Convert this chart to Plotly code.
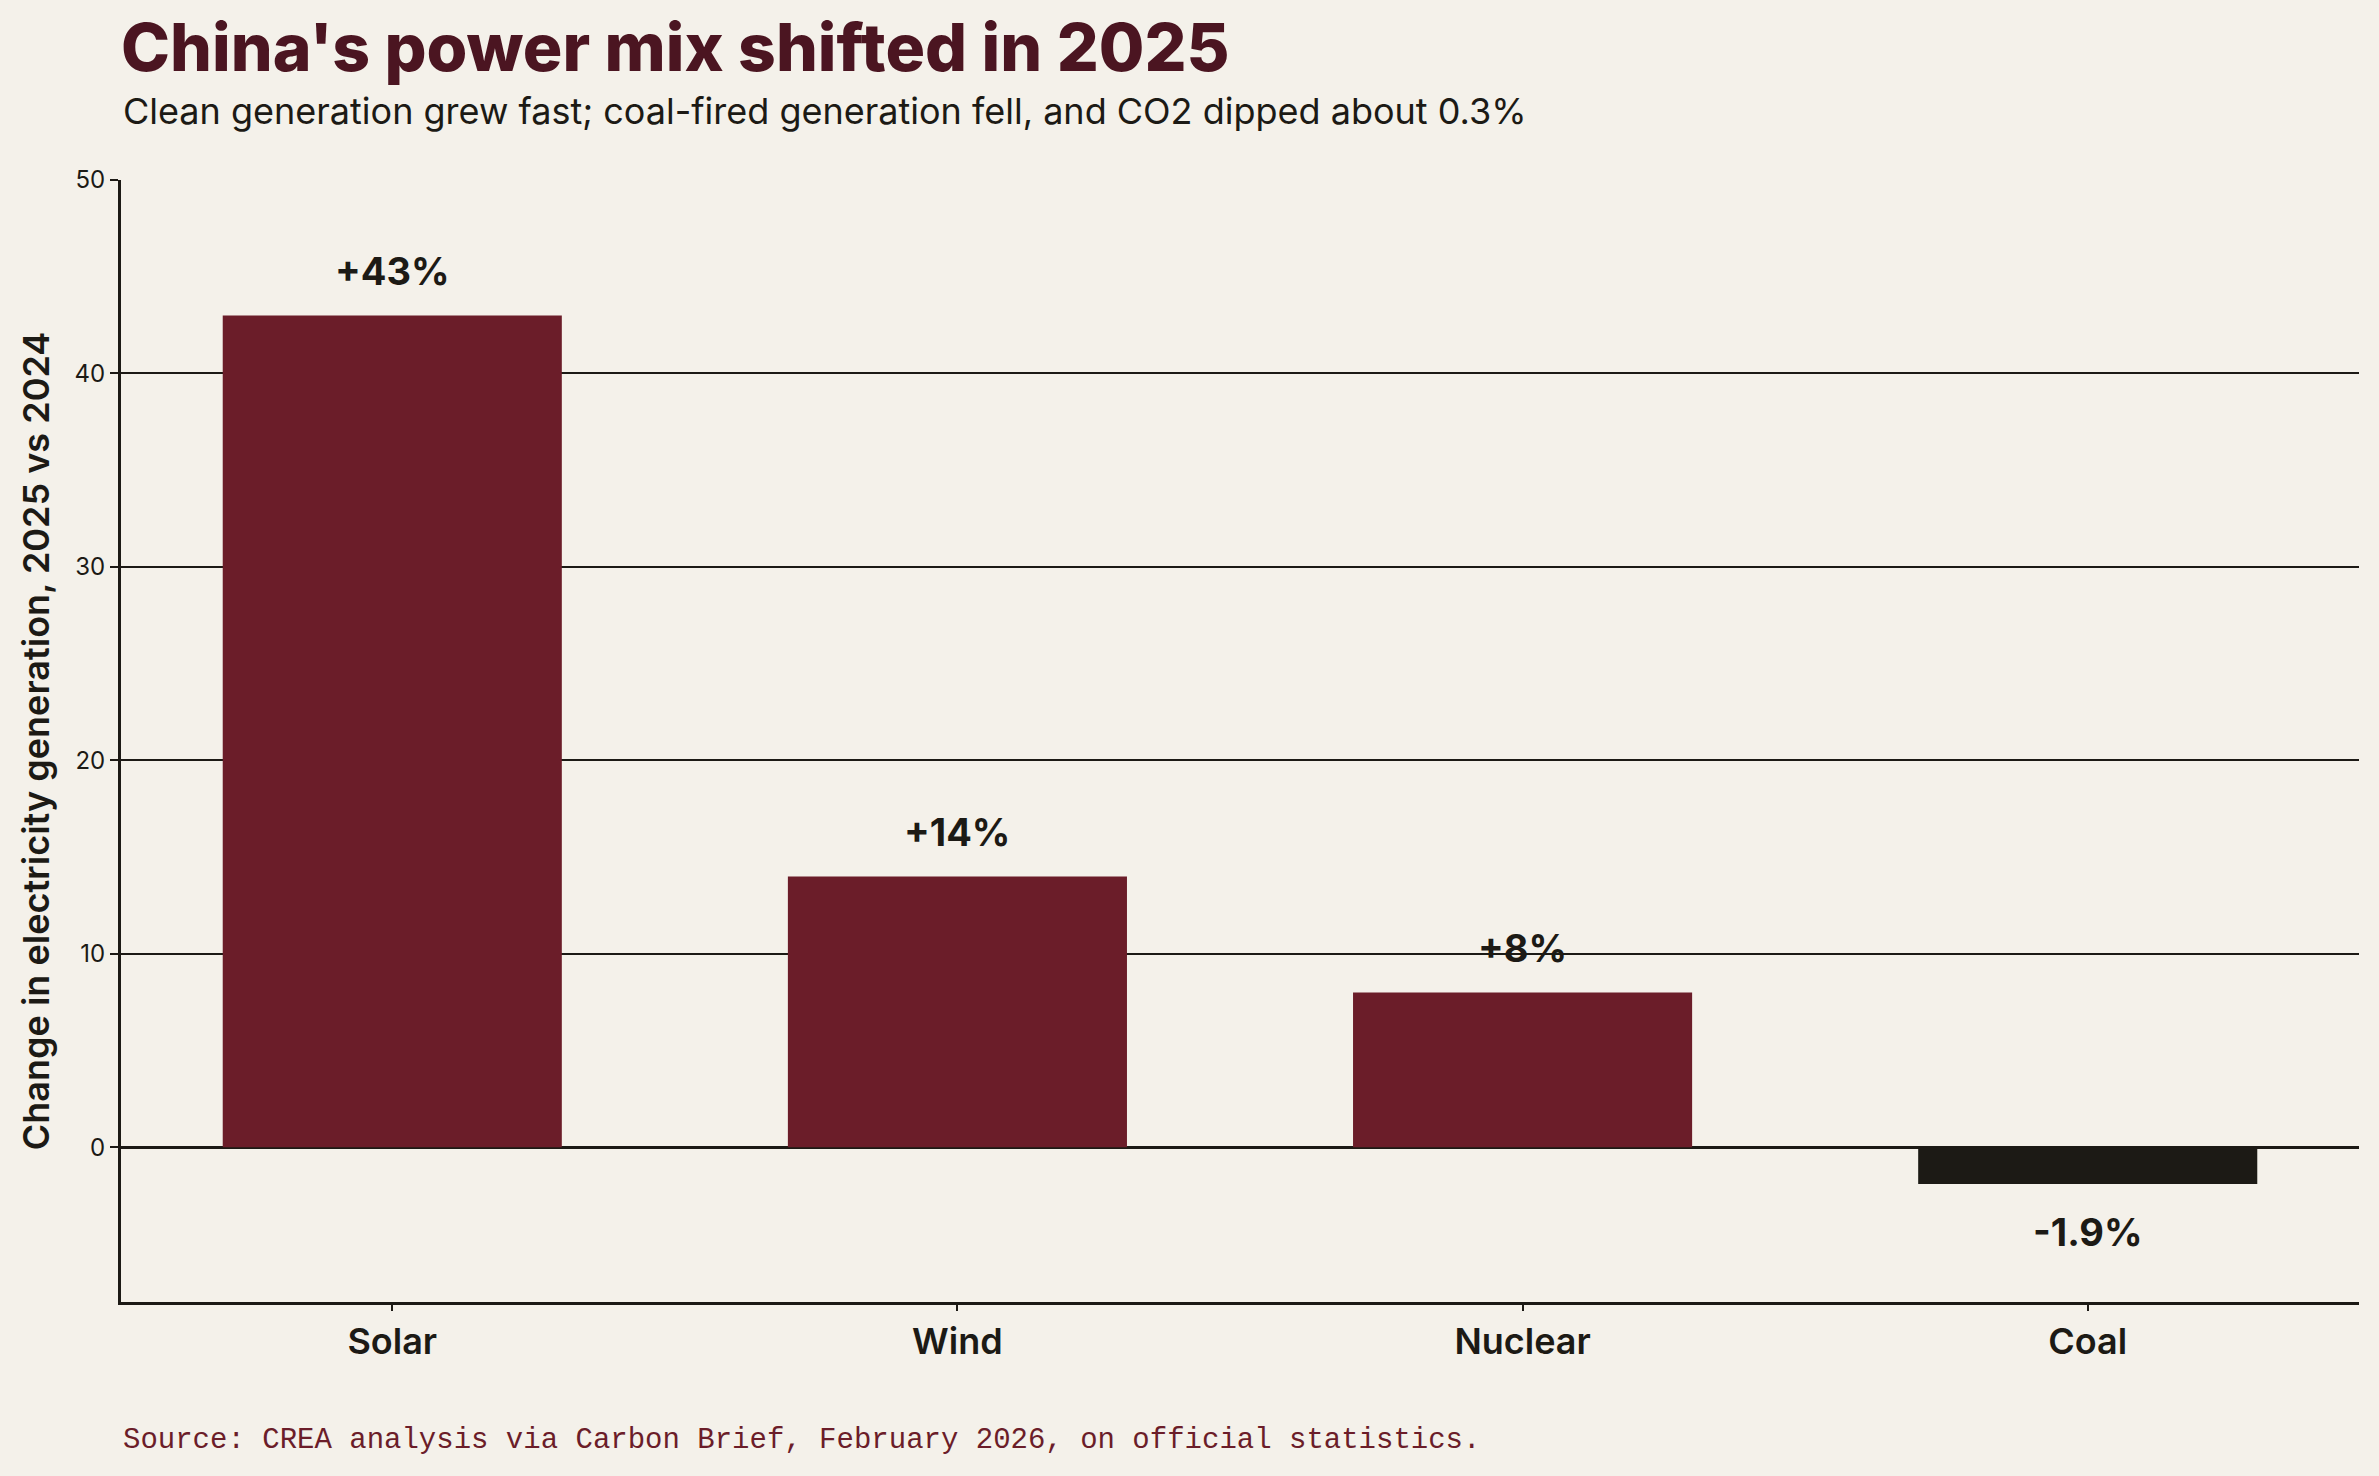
import plotly.graph_objects as go

# data
sources = ["Solar", "Wind", "Nuclear", "Coal"]
change_pct = [43, 14, 8, -1.9]
bar_labels = ["+43%", "+14%", "+8%", "-1.9%"]

BG = "#f4f1ea"
MAROON = "#6b1d29"
INK = "#1c1a15"

colors = [MAROON if v >= 0 else INK for v in change_pct]

fig = go.Figure(go.Bar(
    x=sources,
    y=change_pct,
    width=0.6,
    marker=dict(color=colors, line=dict(width=0)),
    hoverinfo="x+y",
))

# value labels above / below each bar
for name, val, lab in zip(sources, change_pct, bar_labels):
    fig.add_annotation(
        x=name, y=val, text=f"<b>{lab}</b>", showarrow=False,
        yanchor="middle", yshift=44 if val >= 0 else -48,
        font=dict(family="Inter", size=38, color=INK),
    )

fig.update_layout(
    width=2379, height=1476,
    paper_bgcolor=BG, plot_bgcolor=BG,
    margin=dict(l=121, r=20, t=180, b=174),
    showlegend=False,
    bargap=0.4,
    font=dict(family="Inter", color=INK),
    title=dict(
        text="China's power mix shifted in 2025",
        x=121 / 2379, xanchor="left", xref="container",
        y=1 - 48 / 1476, yanchor="middle",
        font=dict(family="Inter", size=66, color="#4b1521", weight=800),
    ),
)

fig.add_annotation(
    text="Clean generation grew fast; coal-fired generation fell, and CO2 dipped about 0.3%",
    xref="paper", yref="paper", x=0, y=1 + (180 - 111) / 1122,
    xanchor="left", yanchor="middle", showarrow=False,
    font=dict(family="Inter", size=36, color=INK),
)
fig.add_annotation(
    text="Source: CREA analysis via Carbon Brief, February 2026, on official statistics.",
    xref="paper", yref="paper", x=0, y=-(1440 - 1302) / 1122,
    xanchor="left", yanchor="middle", showarrow=False,
    font=dict(family="Liberation Mono", size=29, color=MAROON),
)

fig.update_xaxes(
    range=[-0.48, 3.48],
    showline=True, linecolor=INK, linewidth=3,
    ticks="outside", ticklen=6, tickwidth=1.5, tickcolor=INK,
    tickfont=dict(family="Inter", size=36, color=INK, weight=600),
    showgrid=False,
)
fig.update_yaxes(
    range=[-8, 50],
    tickvals=[0, 10, 20, 30, 40, 50],
    showline=True, linecolor=INK, linewidth=3,
    ticks="outside", ticklen=8, tickwidth=2, tickcolor=INK,
    tickfont=dict(family="Inter", size=24, color=INK),
    showgrid=True, gridcolor=INK, gridwidth=1.8,
    zeroline=True, zerolinecolor=INK, zerolinewidth=3,
    title=dict(
        text="Change in electricity generation, 2025 vs 2024",
        font=dict(family="Inter", size=36, color=INK, weight=600),
        standoff=14,
    ),
)

fig.write_html(
    "out.html",
    config={"displayModeBar": False},
    post_script="document.body.style.margin='0';",
)
